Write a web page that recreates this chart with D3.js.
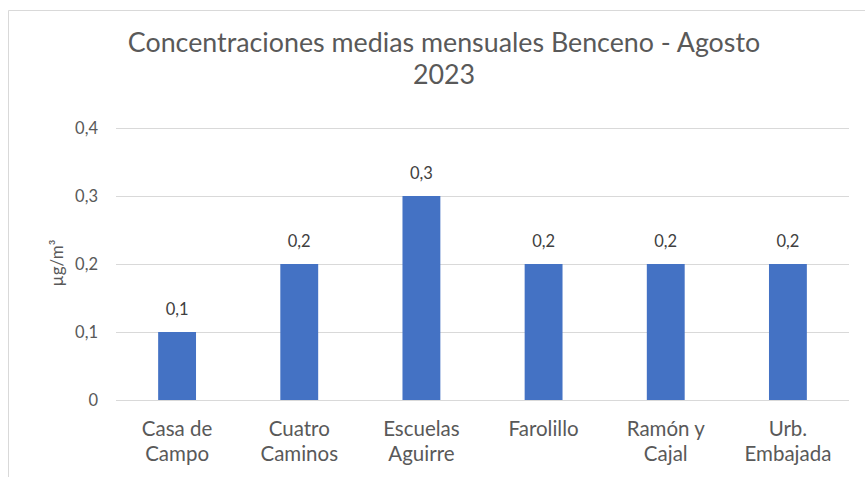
<!DOCTYPE html>
<html>
<head>
<meta charset="utf-8">
<script src="https://cdn.jsdelivr.net/npm/d3@7"></script>
<style>
  body { margin: 0; background: #fff; }
  text { font-family: Lato, "Open Sans", sans-serif; }
</style>
</head>
<body>
<svg></svg>
<script>
// Width and height
var svgWidth = 865;
var svgHeight = 477;

// Data
var stations = ["Casa de Campo", "Cuatro Caminos", "Escuelas Aguirre", "Farolillo", "Ramón y Cajal", "Urb. Embajada"];
var stationLines = [["Casa de", "Campo"], ["Cuatro", "Caminos"], ["Escuelas", "Aguirre"], ["Farolillo"], ["Ramón y", "Cajal"], ["Urb.", "Embajada"]];
var values = [0.1, 0.2, 0.3, 0.2, 0.2, 0.2];
var yTicks = [0, 0.1, 0.2, 0.3, 0.4];
var titleLines = ["Concentraciones medias mensuales Benceno - Agosto", "2023"];
var yTitle = "µg/m³";

var margin = { top: 128, left: 116, right: 16, bottom: 77 };

var svg = d3.select("svg")
    .attr("width", svgWidth)
    .attr("height", svgHeight);

// chart border (top and left edges visible)
svg.append("path")
    .attr("d", "M8.5," + svgHeight + "V10.5H" + svgWidth)
    .attr("fill", "none")
    .attr("stroke", "#d9d9d9")
    .attr("stroke-width", 1);

var x = d3.scaleBand()
    .domain(stations)
    .range([margin.left, svgWidth - margin.right])
    .paddingInner(0.69)
    .paddingOuter(0.345);

var y = d3.scaleLinear()
    .domain([0, 0.4])
    .range([svgHeight - margin.bottom, margin.top]);

var fmt = function (d) { return d === 0 ? "0" : d3.format(".1f")(d).replace(".", ","); };

// gridlines
svg.append("g")
    .attr("class", "grid")
    .selectAll("line")
    .data(yTicks)
    .enter()
    .append("line")
    .attr("x1", margin.left)
    .attr("x2", svgWidth - margin.right)
    .attr("y1", function (d) { return Math.round(y(d)) + 0.5; })
    .attr("y2", function (d) { return Math.round(y(d)) + 0.5; })
    .attr("stroke", "#d9d9d9")
    .attr("stroke-width", 1);

// y axis labels
var yAxis = d3.axisLeft(y).tickValues(yTicks).tickFormat(fmt).tickSize(0).tickPadding(18);
var yg = svg.append("g")
    .attr("transform", "translate(" + margin.left + ",0)")
    .call(yAxis);
yg.select(".domain").remove();
yg.selectAll("text")
    .attr("fill", "#595959")
    .style("font-size", "16.5px")
    .style("font-family", "Lato, sans-serif");

// bars
svg.append("g")
    .selectAll("rect")
    .data(values)
    .enter()
    .append("rect")
    .attr("x", function (d, i) { return x(stations[i]); })
    .attr("y", function (d) { return y(d); })
    .attr("width", x.bandwidth())
    .attr("height", function (d) { return y(0) - y(d); })
    .attr("fill", "#4472c4");

// data labels
svg.append("g")
    .selectAll("text")
    .data(values)
    .enter()
    .append("text")
    .attr("x", function (d, i) { return x(stations[i]) + x.bandwidth() / 2; })
    .attr("y", function (d) { return y(d) - 17; })
    .attr("text-anchor", "middle")
    .attr("fill", "#404040")
    .style("font-size", "16.5px")
    .text(fmt);

// category labels
var cat = svg.append("g")
    .selectAll("text")
    .data(stationLines)
    .enter()
    .append("text")
    .attr("text-anchor", "middle")
    .attr("fill", "#595959")
    .style("font-size", "20.5px")
    .attr("transform", function (d, i) {
        return "translate(" + (x(stations[i]) + x.bandwidth() / 2) + "," + (y(0) + 36) + ")";
    });
cat.selectAll("tspan")
    .data(function (d) { return d; })
    .enter()
    .append("tspan")
    .attr("x", 0)
    .attr("dy", function (d, i) { return i === 0 ? 0 : 25; })
    .text(function (d) { return d; });

// y axis title
svg.append("text")
    .attr("transform", "translate(63,263) rotate(-90)")
    .attr("text-anchor", "middle")
    .attr("fill", "#595959")
    .style("font-size", "17px")
    .text(yTitle);

// title
svg.append("g")
    .selectAll("text")
    .data(titleLines)
    .enter()
    .append("text")
    .attr("x", 444)
    .attr("y", function (d, i) { return 52 + i * 32; })
    .attr("text-anchor", "middle")
    .attr("fill", "#595959")
    .style("font-size", "26.8px")
    .text(function (d) { return d; });
</script>
</body>
</html>
